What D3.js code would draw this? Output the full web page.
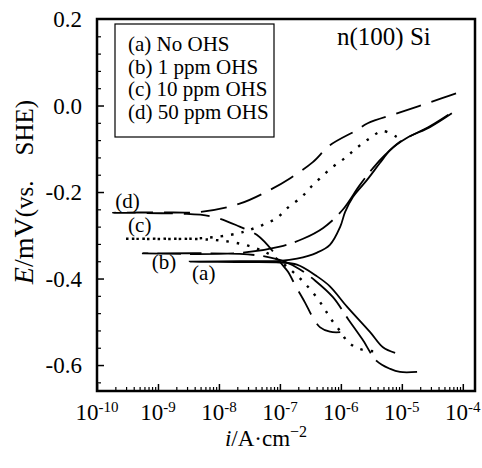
<!DOCTYPE html>
<html>
<head>
<meta charset="utf-8">
<script src="https://cdnjs.cloudflare.com/ajax/libs/d3/7.8.5/d3.min.js"></script>
<style>
  body { margin: 0; background: #fff; }
</style>
</head>
<body>
<div id="chart"></div>
<script>
// log10(i / A cm^-2) and E / V for each polarisation curve,
// traced from the cathodic end, through the spike at E_corr, out along the anodic branch
const aLogI = [-5.11, -5.31, -5.52, -5.90, -6.18, -6.39, -6.72, -7.00, -7.66, -8.48,
               -7.66, -7.00, -6.72, -6.39, -6.18, -6.01, -5.93, -5.80, -5.57, -5.36, -5.19, -4.92, -4.54, -4.18];
const aE    = [-0.572, -0.559, -0.524, -0.465, -0.418, -0.395, -0.368, -0.363, -0.362, -0.361,
               -0.360, -0.359, -0.354, -0.340, -0.322, -0.280, -0.246, -0.211, -0.172, -0.133, -0.103, -0.075, -0.050, -0.018];

const bLogI = [-4.75, -5.03, -5.19, -5.41, -5.65, -5.88, -6.13, -6.42, -6.67, -6.92, -7.25, -7.66, -9.25,
               -7.66, -7.00, -6.62, -6.29, -5.97, -5.69, -5.47, -5.28, -5.03, -4.54, -4.18];
const bE    = [-0.616, -0.616, -0.609, -0.591, -0.540, -0.494, -0.443, -0.405, -0.379, -0.361, -0.349, -0.343, -0.342,
               -0.341, -0.326, -0.308, -0.283, -0.241, -0.184, -0.144, -0.115, -0.084, -0.048, -0.016];

const cLogI = [-5.47, -5.69, -5.88, -6.01, -6.18, -6.29, -6.46, -6.62, -6.79, -7.11, -7.41, -7.82, -8.31, -9.54,
               -8.31, -7.70, -7.49, -7.28, -7.05, -6.87, -6.64, -6.51, -6.34, -6.15, -5.93, -5.74, -5.52, -5.31, -5.06];
const cE    = [-0.568, -0.563, -0.547, -0.522, -0.490, -0.465, -0.432, -0.407, -0.384, -0.349, -0.329, -0.315, -0.309, -0.308,
               -0.307, -0.296, -0.287, -0.276, -0.260, -0.236, -0.211, -0.191, -0.168, -0.144, -0.121, -0.098, -0.075, -0.059, -0.075];

const dLogI = [-6.01, -6.18, -6.34, -6.46, -6.59, -6.74, -6.87, -7.00, -7.11, -7.38, -7.66, -8.10, -8.64, -9.74,
               -8.97, -8.31, -7.66, -7.16, -6.83, -6.46, -6.18, -5.74, -5.56, -5.03, -4.34, -4.01];
const dE    = [-0.524, -0.523, -0.513, -0.490, -0.455, -0.418, -0.384, -0.361, -0.338, -0.299, -0.280, -0.257, -0.250, -0.248,
               -0.247, -0.246, -0.227, -0.195, -0.168, -0.131, -0.092, -0.057, -0.041, -0.016, 0.017, 0.033];

const decades = [-10, -9, -8, -7, -6, -5, -4];
const yTickValues = [0.2, 0.0, -0.2, -0.4, -0.6];
const legendLabels = ['(a) No OHS', '(b) 1 ppm OHS', '(c) 10 ppm OHS', '(d) 50 ppm OHS'];
const curveTags = ['(a)', '(b)', '(c)', '(d)'];

const FONT = "'Liberation Serif', 'Times New Roman', 'DejaVu Serif', serif";
const width = 482, height = 468;
const margin = { top: 19, right: 7, bottom: 77, left: 97 };

const x = d3.scaleLog()
  .domain([1e-10, Math.pow(10, -3.8)])
  .range([margin.left, width - margin.right]);
const y = d3.scaleLinear()
  .domain([-0.66, 0.2])
  .range([height - margin.bottom, margin.top]);

const svg = d3.select('#chart').append('svg')
  .attr('width', width)
  .attr('height', height)
  .attr('font-family', FONT);

svg.append('rect').attr('width', width).attr('height', height).attr('fill', '#fff');

// minor ticks first so the frame sits on top
const yMinor = d3.range(-0.64, 0.17, 0.04).filter(v => Math.abs(Math.round(v * 100) % 20) !== 0);
svg.append('g')
  .attr('transform', `translate(${margin.left},0)`)
  .call(d3.axisLeft(y).tickValues(yMinor).tickSize(-4).tickFormat(''))
  .call(g => g.select('.domain').remove())
  .selectAll('line').attr('stroke-width', 1.2);

const xMinor = [];
decades.slice(0, -1).forEach(p => d3.range(2, 10).forEach(k => xMinor.push(k * Math.pow(10, p))));
svg.append('g')
  .attr('transform', `translate(0,${height - margin.bottom})`)
  .call(d3.axisBottom(x).tickValues(xMinor).tickSize(-4).tickFormat(''))
  .call(g => g.select('.domain').remove())
  .selectAll('line').attr('stroke-width', 1.2);

// major ticks
svg.append('g')
  .attr('transform', `translate(${margin.left},0)`)
  .call(d3.axisLeft(y).tickValues(yTickValues.filter(v => v < 0.19)).tickSize(-7).tickFormat(''))
  .call(g => g.select('.domain').remove())
  .selectAll('line').attr('stroke-width', 1.5);

svg.selectAll('.ylab')
  .data(yTickValues)
  .enter()
  .append('text')
  .attr('class', 'ylab')
  .attr('x', margin.left - 15)
  .attr('y', d => y(d) + 8)
  .attr('text-anchor', 'end')
  .attr('font-size', 23)
  .text(d => d.toFixed(1));

svg.append('g')
  .attr('transform', `translate(0,${height - margin.bottom})`)
  .call(d3.axisBottom(x).tickValues(decades.map(p => Math.pow(10, p))).tickSize(-7).tickFormat(''))
  .call(g => g.select('.domain').remove())
  .selectAll('line').attr('stroke-width', 1.5);

const xl = svg.selectAll('.xlab')
  .data(decades)
  .enter()
  .append('text')
  .attr('class', 'xlab')
  .attr('x', d => x(Math.pow(10, d)))
  .attr('y', height - margin.bottom + 29)
  .attr('text-anchor', 'middle')
  .attr('font-size', 23);
xl.append('tspan').text('10');
xl.append('tspan')
  .attr('dy', -8)
  .attr('font-size', 15)
  .text(d => `${d}`);

// frame
svg.append('rect')
  .attr('x', margin.left)
  .attr('y', margin.top)
  .attr('width', width - margin.left - margin.right)
  .attr('height', height - margin.top - margin.bottom)
  .attr('fill', 'none')
  .attr('stroke', '#000')
  .attr('stroke-width', 2.5);

// curves
const line = d3.line()
  .x(d => x(Math.pow(10, d[0])))
  .y(d => y(d[1]))
  .curve(d3.curveCatmullRom.alpha(0.5));

const curves = [
  { logI: aLogI, E: aE, dash: null, w: 1.8 },
  { logI: bLogI, E: bE, dash: '44,9', w: 1.8 },
  { logI: cLogI, E: cE, dash: '2.5,8', w: 2.4 },
  { logI: dLogI, E: dE, dash: '26,11', w: 1.8 },
];
svg.append('g')
  .selectAll('path')
  .data(curves)
  .enter()
  .append('path')
  .attr('d', c => line(c.logI.map((v, i) => [v, c.E[i]])))
  .attr('fill', 'none')
  .attr('stroke', '#000')
  .attr('stroke-width', c => c.w)
  .attr('stroke-dasharray', c => c.dash);

// curve tags next to the E_corr spikes
const tagAt = [[-8.44, -0.403], [-9.10, -0.378], [-9.49, -0.292], [-9.70, -0.237]];
svg.selectAll('.tag')
  .data(curveTags)
  .enter()
  .append('text')
  .attr('class', 'tag')
  .attr('x', (d, i) => x(Math.pow(10, tagAt[i][0])))
  .attr('y', (d, i) => y(tagAt[i][1]))
  .attr('font-size', 21)
  .text(d => d);

// legend box
const legend = svg.append('g').attr('transform', 'translate(115,24)');
legend.append('rect')
  .attr('width', 159)
  .attr('height', 113)
  .attr('fill', '#fff')
  .attr('stroke', '#000')
  .attr('stroke-width', 1.2);
legend.selectAll('text')
  .data(legendLabels)
  .enter()
  .append('text')
  .attr('x', 13)
  .attr('y', (d, i) => 27 + i * 22.5)
  .attr('font-size', 21)
  .text(d => d);

svg.append('text')
  .attr('x', 337)
  .attr('y', 45)
  .attr('font-size', 25)
  .text('n(100) Si');

// axis titles
const yTitle = svg.append('text')
  .attr('transform', 'translate(33,192) rotate(-90)')
  .attr('text-anchor', 'middle')
  .attr('font-size', 25);
yTitle.append('tspan').attr('font-style', 'italic').attr('font-size', 28).text('E');
yTitle.append('tspan').attr('font-size', 28).text('/mV');
yTitle.append('tspan').text('(vs.\u2003SHE)');

const xTitle = svg.append('text')
  .attr('x', 266)
  .attr('y', 446)
  .attr('text-anchor', 'middle')
  .attr('font-size', 23);
xTitle.append('tspan').attr('font-style', 'italic').text('i');
xTitle.append('tspan').text('/A·cm');
xTitle.append('tspan').attr('dy', -9).attr('font-size', 16).text('−2');
</script>
</body>
</html>
